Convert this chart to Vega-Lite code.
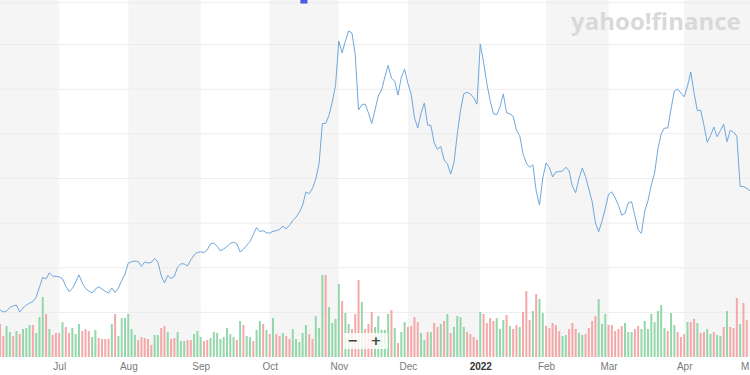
{
"$schema": "https://vega.github.io/schema/vega-lite/v6.json",
"width": 750, "height": 357,
"autosize": "none",
"padding": {"left": 0, "top": 0, "right": 0, "bottom": 18},
"background": "#ffffff",
"config": {"view": {"stroke": null}, "scale": {"continuousPadding": 0}},
"datasets": {
"bands": [{"s":0,"e":18},{"s":39,"e":61},{"s":82,"e":103},{"s":124,"e":146},{"s":166,"e":185},{"s":208,"e":228}],
"grid": [{"g":20},{"g":40},{"g":60},{"g":80},{"g":100},{"g":120},{"g":140},{"g":158.8}],
"d": [
{"t":0,"p":21.1,"v":3.3,"dir":"d"},{"t":1,"p":20.2,"v":2.1,"dir":"d"},{"t":2,"p":20.6,"v":3.1,"dir":"u"},{"t":3,"p":22.2,"v":2.5,"dir":"u"},{"t":4,"p":22.9,"v":2.1,"dir":"d"},
{"t":5,"p":23.3,"v":2.6,"dir":"u"},{"t":6,"p":20.2,"v":2.3,"dir":"d"},{"t":7,"p":22.0,"v":2.8,"dir":"u"},{"t":8,"p":23.3,"v":2.9,"dir":"u"},{"t":9,"p":24.2,"v":3.2,"dir":"u"},
{"t":10,"p":24.8,"v":3.2,"dir":"d"},{"t":11,"p":26.9,"v":2.4,"dir":"u"},{"t":12,"p":31.4,"v":4.0,"dir":"u"},{"t":13,"p":35.7,"v":6.0,"dir":"u"},{"t":14,"p":35.0,"v":4.3,"dir":"d"},
{"t":15,"p":37.7,"v":2.8,"dir":"u"},{"t":16,"p":36.3,"v":2.2,"dir":"d"},{"t":17,"p":36.1,"v":2.4,"dir":"d"},{"t":18,"p":35.9,"v":2.4,"dir":"d"},{"t":19,"p":35.0,"v":3.5,"dir":"u"},
{"t":20,"p":31.8,"v":3.0,"dir":"d"},{"t":21,"p":29.3,"v":2.4,"dir":"d"},{"t":22,"p":30.7,"v":2.9,"dir":"u"},{"t":23,"p":33.6,"v":2.3,"dir":"u"},{"t":24,"p":36.8,"v":3.3,"dir":"u"},
{"t":25,"p":33.2,"v":2.6,"dir":"d"},{"t":26,"p":30.7,"v":2.8,"dir":"d"},{"t":27,"p":29.6,"v":2.6,"dir":"d"},{"t":28,"p":28.7,"v":2.0,"dir":"u"},{"t":29,"p":30.5,"v":2.7,"dir":"u"},
{"t":30,"p":31.4,"v":1.9,"dir":"d"},{"t":31,"p":30.5,"v":1.8,"dir":"d"},{"t":32,"p":29.4,"v":1.8,"dir":"d"},{"t":33,"p":28.7,"v":1.8,"dir":"d"},{"t":34,"p":30.9,"v":3.3,"dir":"u"},
{"t":35,"p":28.9,"v":4.3,"dir":"d"},{"t":36,"p":30.9,"v":2.1,"dir":"u"},{"t":37,"p":34.3,"v":3.9,"dir":"u"},{"t":38,"p":37.2,"v":3.9,"dir":"u"},{"t":39,"p":42.1,"v":4.3,"dir":"u"},
{"t":40,"p":42.7,"v":2.8,"dir":"u"},{"t":41,"p":43.0,"v":2.2,"dir":"u"},{"t":42,"p":42.8,"v":1.7,"dir":"d"},{"t":43,"p":40.6,"v":2.0,"dir":"d"},{"t":44,"p":42.6,"v":1.9,"dir":"d"},
{"t":45,"p":42.1,"v":1.8,"dir":"d"},{"t":46,"p":42.4,"v":1.2,"dir":"d"},{"t":47,"p":44.2,"v":2.2,"dir":"u"},{"t":48,"p":42.6,"v":2.2,"dir":"u"},{"t":49,"p":36.5,"v":2.9,"dir":"d"},
{"t":50,"p":33.2,"v":3.1,"dir":"d"},{"t":51,"p":36.5,"v":2.5,"dir":"u"},{"t":52,"p":35.2,"v":1.8,"dir":"d"},{"t":53,"p":36.1,"v":1.9,"dir":"d"},{"t":54,"p":40.3,"v":2.5,"dir":"u"},
{"t":55,"p":41.8,"v":1.6,"dir":"u"},{"t":56,"p":41.7,"v":1.6,"dir":"u"},{"t":57,"p":40.8,"v":1.7,"dir":"d"},{"t":58,"p":43.5,"v":1.7,"dir":"d"},{"t":59,"p":45.7,"v":2.3,"dir":"u"},
{"t":60,"p":46.9,"v":2.6,"dir":"u"},{"t":61,"p":47.1,"v":2.0,"dir":"u"},{"t":62,"p":46.8,"v":1.6,"dir":"d"},{"t":63,"p":48.0,"v":1.7,"dir":"d"},{"t":64,"p":50.7,"v":1.9,"dir":"u"},
{"t":65,"p":51.1,"v":2.5,"dir":"u"},{"t":66,"p":49.6,"v":2.4,"dir":"u"},{"t":67,"p":47.6,"v":1.8,"dir":"u"},{"t":68,"p":48.4,"v":2.0,"dir":"u"},{"t":69,"p":49.5,"v":2.9,"dir":"u"},
{"t":70,"p":50.9,"v":2.3,"dir":"u"},{"t":71,"p":51.5,"v":2.0,"dir":"u"},{"t":72,"p":50.7,"v":1.7,"dir":"d"},{"t":73,"p":47.1,"v":3.6,"dir":"u"},{"t":74,"p":48.2,"v":3.2,"dir":"d"},
{"t":75,"p":50.1,"v":2.1,"dir":"u"},{"t":76,"p":51.8,"v":2.0,"dir":"u"},{"t":77,"p":54.9,"v":1.6,"dir":"d"},{"t":78,"p":58.0,"v":2.7,"dir":"u"},{"t":79,"p":56.2,"v":3.6,"dir":"u"},
{"t":80,"p":56.6,"v":3.3,"dir":"d"},{"t":81,"p":55.7,"v":2.7,"dir":"u"},{"t":82,"p":55.5,"v":2.3,"dir":"d"},{"t":83,"p":56.4,"v":3.9,"dir":"u"},{"t":84,"p":56.6,"v":2.3,"dir":"d"},
{"t":85,"p":57.2,"v":2.1,"dir":"d"},{"t":86,"p":58.6,"v":2.4,"dir":"u"},{"t":87,"p":57.4,"v":2.1,"dir":"d"},{"t":88,"p":59.0,"v":1.8,"dir":"d"},{"t":89,"p":61.1,"v":2.8,"dir":"u"},
{"t":90,"p":62.7,"v":1.8,"dir":"u"},{"t":91,"p":64.8,"v":1.5,"dir":"u"},{"t":92,"p":68.1,"v":2.4,"dir":"u"},{"t":93,"p":73.9,"v":3.2,"dir":"u"},{"t":94,"p":73.2,"v":2.3,"dir":"d"},
{"t":95,"p":75.6,"v":1.8,"dir":"d"},{"t":96,"p":79.8,"v":4.1,"dir":"u"},{"t":97,"p":86.7,"v":2.9,"dir":"u"},{"t":98,"p":104.6,"v":8.2,"dir":"u"},{"t":99,"p":104.7,"v":8.2,"dir":"d"},
{"t":100,"p":108.2,"v":5.0,"dir":"u"},{"t":101,"p":114.3,"v":3.4,"dir":"u"},{"t":102,"p":121.6,"v":3.8,"dir":"u"},{"t":103,"p":141.6,"v":7.3,"dir":"u"},{"t":104,"p":136.3,"v":5.6,"dir":"d"},
{"t":105,"p":141.6,"v":4.4,"dir":"u"},{"t":106,"p":146.1,"v":3.3,"dir":"u"},{"t":107,"p":145.2,"v":2.8,"dir":"d"},{"t":108,"p":135.4,"v":4.3,"dir":"d"},{"t":109,"p":110.7,"v":7.7,"dir":"d"},
{"t":110,"p":113.0,"v":5.5,"dir":"u"},{"t":111,"p":113.4,"v":2.8,"dir":"d"},{"t":112,"p":109.4,"v":3.3,"dir":"d"},{"t":113,"p":104.6,"v":4.5,"dir":"d"},{"t":114,"p":110.7,"v":3.0,"dir":"u"},
{"t":115,"p":117.0,"v":4.1,"dir":"u"},{"t":116,"p":119.7,"v":2.7,"dir":"u"},{"t":117,"p":125.5,"v":2.7,"dir":"u"},{"t":118,"p":130.7,"v":4.3,"dir":"u"},{"t":119,"p":124.9,"v":4.7,"dir":"d"},
{"t":120,"p":123.6,"v":2.9,"dir":"u"},{"t":121,"p":117.4,"v":1.4,"dir":"d"},{"t":122,"p":125.4,"v":2.5,"dir":"u"},{"t":123,"p":129.0,"v":3.5,"dir":"u"},{"t":124,"p":122.6,"v":3.0,"dir":"d"},
{"t":125,"p":117.8,"v":3.1,"dir":"d"},{"t":126,"p":107.3,"v":4.0,"dir":"d"},{"t":127,"p":102.6,"v":3.5,"dir":"d"},{"t":128,"p":109.3,"v":2.4,"dir":"u"},{"t":129,"p":113.8,"v":1.7,"dir":"u"},
{"t":130,"p":104.0,"v":2.5,"dir":"d"},{"t":131,"p":103.7,"v":2.5,"dir":"u"},{"t":132,"p":95.9,"v":3.4,"dir":"d"},{"t":133,"p":93.1,"v":3.0,"dir":"d"},{"t":134,"p":94.4,"v":3.3,"dir":"u"},
{"t":135,"p":88.3,"v":3.6,"dir":"d"},{"t":136,"p":86.7,"v":4.3,"dir":"u"},{"t":137,"p":82.0,"v":2.4,"dir":"d"},{"t":138,"p":87.0,"v":3.0,"dir":"u"},{"t":139,"p":99.7,"v":4.1,"dir":"u"},
{"t":140,"p":110.6,"v":4.0,"dir":"u"},{"t":141,"p":118.0,"v":3.0,"dir":"u"},{"t":142,"p":118.6,"v":2.5,"dir":"d"},{"t":143,"p":117.9,"v":2.3,"dir":"d"},{"t":144,"p":116.2,"v":2.0,"dir":"d"},
{"t":145,"p":113.3,"v":1.7,"dir":"d"},{"t":146,"p":140.3,"v":4.5,"dir":"u"},{"t":147,"p":132.2,"v":4.3,"dir":"d"},{"t":148,"p":122.6,"v":3.4,"dir":"d"},{"t":149,"p":114.9,"v":3.9,"dir":"d"},
{"t":150,"p":109.0,"v":3.6,"dir":"d"},{"t":151,"p":108.6,"v":3.9,"dir":"u"},{"t":152,"p":112.1,"v":2.8,"dir":"u"},{"t":153,"p":117.9,"v":3.7,"dir":"u"},{"t":154,"p":109.4,"v":4.2,"dir":"d"},
{"t":155,"p":109.0,"v":3.1,"dir":"u"},{"t":156,"p":107.9,"v":2.8,"dir":"d"},{"t":157,"p":101.7,"v":3.2,"dir":"d"},{"t":158,"p":99.2,"v":3.0,"dir":"u"},{"t":159,"p":91.1,"v":4.5,"dir":"d"},
{"t":160,"p":86.9,"v":6.6,"dir":"d"},{"t":161,"p":85.0,"v":3.7,"dir":"d"},{"t":162,"p":86.1,"v":4.6,"dir":"u"},{"t":163,"p":74.5,"v":6.3,"dir":"d"},{"t":164,"p":68.1,"v":5.8,"dir":"u"},
{"t":165,"p":80.2,"v":4.4,"dir":"u"},{"t":166,"p":87.0,"v":3.1,"dir":"d"},{"t":167,"p":85.0,"v":2.9,"dir":"d"},{"t":168,"p":80.7,"v":3.4,"dir":"d"},{"t":169,"p":82.9,"v":3.2,"dir":"d"},
{"t":170,"p":83.1,"v":2.6,"dir":"d"},{"t":171,"p":83.3,"v":2.1,"dir":"u"},{"t":172,"p":85.1,"v":2.2,"dir":"u"},{"t":173,"p":83.4,"v":2.8,"dir":"d"},{"t":174,"p":76.6,"v":3.4,"dir":"d"},
{"t":175,"p":73.6,"v":2.8,"dir":"d"},{"t":176,"p":79.9,"v":2.4,"dir":"u"},{"t":177,"p":84.7,"v":2.2,"dir":"u"},{"t":178,"p":80.9,"v":2.3,"dir":"d"},{"t":179,"p":75.2,"v":2.9,"dir":"d"},
{"t":180,"p":69.7,"v":3.6,"dir":"d"},{"t":181,"p":60.1,"v":4.1,"dir":"d"},{"t":182,"p":56.2,"v":5.8,"dir":"u"},{"t":183,"p":60.8,"v":3.3,"dir":"u"},{"t":184,"p":66.5,"v":4.3,"dir":"u"},
{"t":185,"p":72.9,"v":3.2,"dir":"d"},{"t":186,"p":74.0,"v":3.2,"dir":"d"},{"t":187,"p":71.3,"v":2.6,"dir":"d"},{"t":188,"p":68.0,"v":2.8,"dir":"d"},{"t":189,"p":63.6,"v":3.1,"dir":"d"},
{"t":190,"p":64.4,"v":3.4,"dir":"u"},{"t":191,"p":69.1,"v":2.5,"dir":"u"},{"t":192,"p":69.6,"v":2.5,"dir":"u"},{"t":193,"p":63.4,"v":2.8,"dir":"d"},{"t":194,"p":56.9,"v":3.1,"dir":"d"},
{"t":195,"p":55.4,"v":2.8,"dir":"u"},{"t":196,"p":65.4,"v":3.6,"dir":"u"},{"t":197,"p":70.1,"v":2.8,"dir":"u"},{"t":198,"p":77.1,"v":4.3,"dir":"u"},{"t":199,"p":82.5,"v":3.5,"dir":"u"},
{"t":200,"p":93.2,"v":4.6,"dir":"u"},{"t":201,"p":100.0,"v":5.2,"dir":"u"},{"t":202,"p":102.6,"v":2.9,"dir":"u"},{"t":203,"p":102.6,"v":2.6,"dir":"d"},{"t":204,"p":111.2,"v":4.4,"dir":"u"},
{"t":205,"p":119.2,"v":3.2,"dir":"u"},{"t":206,"p":120.1,"v":2.5,"dir":"d"},{"t":207,"p":118.3,"v":2.0,"dir":"d"},{"t":208,"p":116.6,"v":2.3,"dir":"d"},{"t":209,"p":121.5,"v":3.5,"dir":"u"},
{"t":210,"p":127.7,"v":3.5,"dir":"d"},{"t":211,"p":118.2,"v":3.8,"dir":"d"},{"t":212,"p":110.4,"v":3.4,"dir":"u"},{"t":213,"p":110.6,"v":2.4,"dir":"d"},{"t":214,"p":103.9,"v":2.5,"dir":"d"},
{"t":215,"p":96.2,"v":2.8,"dir":"u"},{"t":216,"p":99.2,"v":2.3,"dir":"u"},{"t":217,"p":103.1,"v":2.5,"dir":"d"},{"t":218,"p":98.7,"v":2.2,"dir":"u"},{"t":219,"p":101.5,"v":2.1,"dir":"u"},
{"t":220,"p":104.3,"v":3.0,"dir":"d"},{"t":221,"p":96.5,"v":4.6,"dir":"u"},{"t":222,"p":101.6,"v":3.0,"dir":"d"},{"t":223,"p":100.7,"v":2.9,"dir":"d"},{"t":224,"p":99.0,"v":5.9,"dir":"d"},
{"t":225,"p":76.4,"v":3.3,"dir":"u"},{"t":226,"p":76.4,"v":5.4,"dir":"d"},{"t":227,"p":75.6,"v":3.7,"dir":"d"},{"t":228,"p":74.5,"v":0,"dir":"d"}
]
},
"layer": [
{"data": {"name": "bands"},
 "mark": {"type": "rect", "color": "#f5f5f5"},
 "encoding": {
  "x": {"field": "s", "type": "quantitative", "scale": {"domain": [0, 228], "nice": false, "zero": false, "padding": 0},
   "axis": {"values": [18, 39, 61, 82, 103, 124, 146, 166, 185, 208, 228],
    "labelExpr": "{'18':'Jul','39':'Aug','61':'Sep','82':'Oct','103':'Nov','124':'Dec','146':'2022','166':'Feb','185':'Mar','208':'Apr','228':'May'}[datum.value]",
    "title": null, "domain": false, "ticks": false, "grid": false, "labelPadding": 4, "labelFontSize": 10,
    "labelFont": "Liberation Sans",
    "labelColor": {"condition": {"test": "datum.value == 146", "value": "#333333"}, "value": "#7a7a7a"},
    "labelFontWeight": {"condition": {"test": "datum.value == 146", "value": "bold"}, "value": "normal"},
    "labelOverlap": false, "labelFlush": false, "labelBound": false}},
  "x2": {"field": "e"}}},
{"data": {"name": "grid"},
 "mark": {"type": "rule", "color": "#ececec", "strokeWidth": 1},
 "encoding": {"y": {"field": "g", "type": "quantitative", "scale": {"domain": [0, 160], "nice": false, "zero": false}, "axis": null}}},
{"data": {"name": "d"},
 "mark": {"type": "bar", "size": 2, "orient": "vertical"},
 "encoding": {
  "x": {"field": "t", "type": "quantitative", "title": null},
  "y": {"field": "v", "type": "quantitative", "scale": {"domain": [0, 35.7], "nice": false, "zero": true}, "axis": null},
  "color": {"field": "dir", "type": "nominal", "scale": {"domain": ["u", "d"], "range": ["#94d7ab", "#f5a8a8"]}, "legend": null}}},
{"data": {"name": "d"},
 "mark": {"type": "line", "color": "#6ea8dc", "strokeWidth": 1},
 "encoding": {
  "x": {"field": "t", "type": "quantitative", "title": null},
  "y": {"field": "p", "type": "quantitative", "scale": {"domain": [0, 160], "nice": false, "zero": false}, "axis": null}}},
{"data": {"values": [{"label": "yahoo!finance"}]},
 "mark": {"type": "text", "align": "right", "baseline": "alphabetic", "font": "Open Sans", "fontWeight": "bold", "fontSize": 24, "color": "#d9d9d9"},
 "encoding": {
  "x": {"datum": 225.2, "type": "quantitative", "title": null},
  "y": {"datum": 146.6, "type": "quantitative", "scale": {"domain": [0, 160], "nice": false, "zero": false}, "axis": null},
  "text": {"field": "label"}}},
{"data": {"values": [{"label": "box"}]},
 "mark": {"type": "rect", "color": "#ffffff", "opacity": 0.8},
 "encoding": {
  "x": {"datum": 104.3, "type": "quantitative", "title": null},
  "x2": {"datum": 117.9},
  "y": {"datum": 10.8, "type": "quantitative", "scale": {"domain": [0, 160], "nice": false, "zero": false}, "axis": null},
  "y2": {"datum": 3.6}}},
{"data": {"values": [{"sym": "−", "k": 107.3}, {"sym": "+", "k": 114.3}]},
 "mark": {"type": "text", "align": "center", "baseline": "middle", "font": "DejaVu Sans", "fontWeight": "bold", "fontSize": 13, "color": "#444444"},
 "encoding": {
  "x": {"field": "k", "type": "quantitative", "title": null},
  "y": {"datum": 7, "type": "quantitative", "scale": {"domain": [0, 160], "nice": false, "zero": false}, "axis": null},
  "text": {"field": "sym"}}},
{"data": {"values": [{"label": "event"}]},
 "mark": {"type": "point", "shape": "square", "filled": true, "size": 50, "color": "#4a5fd9", "opacity": 1},
 "encoding": {
  "x": {"datum": 92.4, "type": "quantitative", "title": null},
  "y": {"datum": 160, "type": "quantitative", "scale": {"domain": [0, 160], "nice": false, "zero": false}, "axis": null}}}
],
"resolve": {"scale": {"y": "independent"}}
}
